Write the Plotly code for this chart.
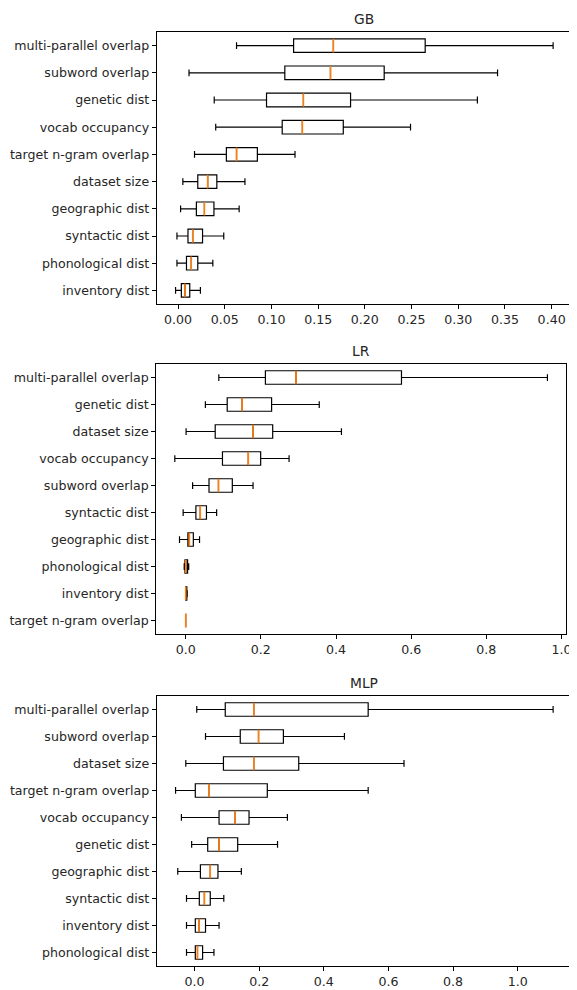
import plotly.graph_objects as go

# the browser page adds an 8px body margin, so the figure is drawn 8px in
OFF = 8
W, H = 577 - OFF, 990 - OFF

# ---------------- data ----------------
gb_labels = ["multi-parallel overlap", "subword overlap", "genetic dist", "vocab occupancy",
             "target n-gram overlap", "dataset size", "geographic dist", "syntactic dist",
             "phonological dist", "inventory dist"]
gb_low = [0.0626, 0.0117, 0.0387, 0.0403, 0.0176, 0.0051, 0.0027, -0.0012, -0.0012, -0.0027]
gb_q1 = [0.1237, 0.1143, 0.0947, 0.1115, 0.0517, 0.0211, 0.0196, 0.0106, 0.0090, 0.0035]
gb_med = [0.1663, 0.1632, 0.1342, 0.1331, 0.0626, 0.0317, 0.0282, 0.0157, 0.0141, 0.0074]
gb_q3 = [0.2646, 0.2207, 0.1847, 0.1769, 0.0849, 0.0415, 0.0384, 0.0262, 0.0211, 0.0125]
gb_high = [0.4016, 0.3421, 0.3205, 0.2489, 0.1252, 0.0716, 0.0654, 0.0489, 0.0372, 0.0239]

lr_labels = ["multi-parallel overlap", "genetic dist", "dataset size", "vocab occupancy",
             "subword overlap", "syntactic dist", "geographic dist", "phonological dist",
             "inventory dist", "target n-gram overlap"]
lr_low = [0.0881, 0.0523, 0.0010, -0.0290, 0.0184, -0.0068, -0.0165, -0.0040, 0.0, 0.0]
lr_q1 = [0.2121, 0.1104, 0.0785, 0.0978, 0.0620, 0.0271, 0.0058, -0.0020, 0.0, 0.0]
lr_med = [0.2935, 0.1501, 0.1792, 0.1666, 0.0872, 0.0387, 0.0097, 0.0000, 0.0, 0.0]
lr_q3 = [0.5743, 0.2286, 0.2315, 0.1995, 0.1240, 0.0552, 0.0203, 0.0050, 0.003, 0.0]
lr_high = [0.9627, 0.3554, 0.4145, 0.2751, 0.1792, 0.0823, 0.0368, 0.0080, 0.004, 0.0]

mlp_labels = ["multi-parallel overlap", "subword overlap", "dataset size", "target n-gram overlap",
              "vocab occupancy", "genetic dist", "geographic dist", "syntactic dist",
              "inventory dist", "phonological dist"]
mlp_low = [0.0068, 0.0339, -0.0271, -0.0588, -0.0407, -0.0090, -0.0520, -0.0249, -0.0249, -0.0249]
mlp_q1 = [0.0950, 0.1414, 0.0894, 0.0023, 0.0758, 0.0407, 0.0181, 0.0147, 0.0023, 0.0023]
mlp_med = [0.1833, 0.1980, 0.1833, 0.0452, 0.1256, 0.0758, 0.0486, 0.0305, 0.0136, 0.0090]
mlp_q3 = [0.5373, 0.2749, 0.3224, 0.2251, 0.1686, 0.1335, 0.0724, 0.0486, 0.0339, 0.0249]
mlp_high = [1.1097, 0.4638, 0.6482, 0.5373, 0.2873, 0.2568, 0.1448, 0.0905, 0.0758, 0.0600]

titles = ["GB", "LR", "MLP"]
gb_ticks = [0.00, 0.05, 0.10, 0.15, 0.20, 0.25, 0.30, 0.35, 0.40]
lr_ticks = [0.0, 0.2, 0.4, 0.6, 0.8, 1.0]
mlp_ticks = [0.0, 0.2, 0.4, 0.6, 0.8, 1.0]

# ---------------- layout geometry (reference pixels: left, right, top, bottom) ----------------
panels_px = [(158, 577, 32, 304), (157.5, 571, 364, 634), (158, 577, 696, 966)]
BOX_W = 0.5

panels = [
    (gb_labels, gb_low, gb_q1, gb_med, gb_q3, gb_high, gb_ticks, ".2f"),
    (lr_labels, lr_low, lr_q1, lr_med, lr_q3, lr_high, lr_ticks, ".1f"),
    (mlp_labels, mlp_low, mlp_q1, mlp_med, mlp_q3, mlp_high, mlp_ticks, ".1f"),
]

fig = go.Figure()
font_family = "DejaVu Sans"
txt_col = "#262626"

for k, (labels, lo, q1, med, q3, hi, ticks, fmt) in enumerate(panels):
    ax = "" if k == 0 else str(k + 1)
    xref, yref = "x" + ax, "y" + ax
    pos = list(range(len(labels)))
    fig.add_trace(go.Box(
        y=pos, q1=q1, median=med, q3=q3, lowerfence=lo, upperfence=hi,
        orientation="h", width=BOX_W, whiskerwidth=0.5,
        line=dict(color="black", width=1.2), fillcolor="rgba(255,255,255,0)",
        boxpoints=False, showlegend=False, xaxis=xref, yaxis=yref,
    ))
    mx, my = [], []
    for i, m in enumerate(med):
        mx += [m, m, None]
        my += [i - BOX_W / 2, i + BOX_W / 2, None]
    fig.add_trace(go.Scatter(
        x=mx, y=my, mode="lines", line=dict(color="#ff7f0e", width=1.6),
        showlegend=False, hoverinfo="skip", xaxis=xref, yaxis=yref,
    ))
    dmin, dmax = min(lo), max(hi)
    pad = 0.05 * (dmax - dmin)
    l, r, top, bot = panels_px[k]
    l, r, top, bot = l - OFF, r - OFF, top - OFF, bot - OFF
    common = dict(
        showgrid=False, zeroline=False, showline=True, mirror=True,
        linecolor="black", linewidth=1, ticks="outside", ticklen=4, tickwidth=1,
        tickcolor="black", tickfont=dict(family=font_family, size=12.6, color=txt_col),
    )
    fig.layout["xaxis" + ax] = dict(
        domain=[l / W, min(r / W, 1.0)], anchor=yref,
        range=[dmin - pad, dmax + pad], tickvals=ticks, tickformat=fmt, **common,
    )
    fig.layout["yaxis" + ax] = dict(
        domain=[1 - bot / H, 1 - top / H], anchor=xref,
        range=[len(labels) - 0.5, -0.5], tickvals=pos, ticktext=labels, **common,
    )
    fig.add_annotation(
        text=titles[k], x=(l + r) / 2 / W, y=1 - (top - 13) / H,
        xref="paper", yref="paper", xanchor="center", yanchor="middle",
        showarrow=False, font=dict(family=font_family, size=13.8, color=txt_col),
    )

fig.update_layout(
    width=W, height=H, margin=dict(l=0, r=0, t=0, b=0),
    paper_bgcolor="white", plot_bgcolor="white", boxmode="overlay",
)

fig.write_html("out.html")
